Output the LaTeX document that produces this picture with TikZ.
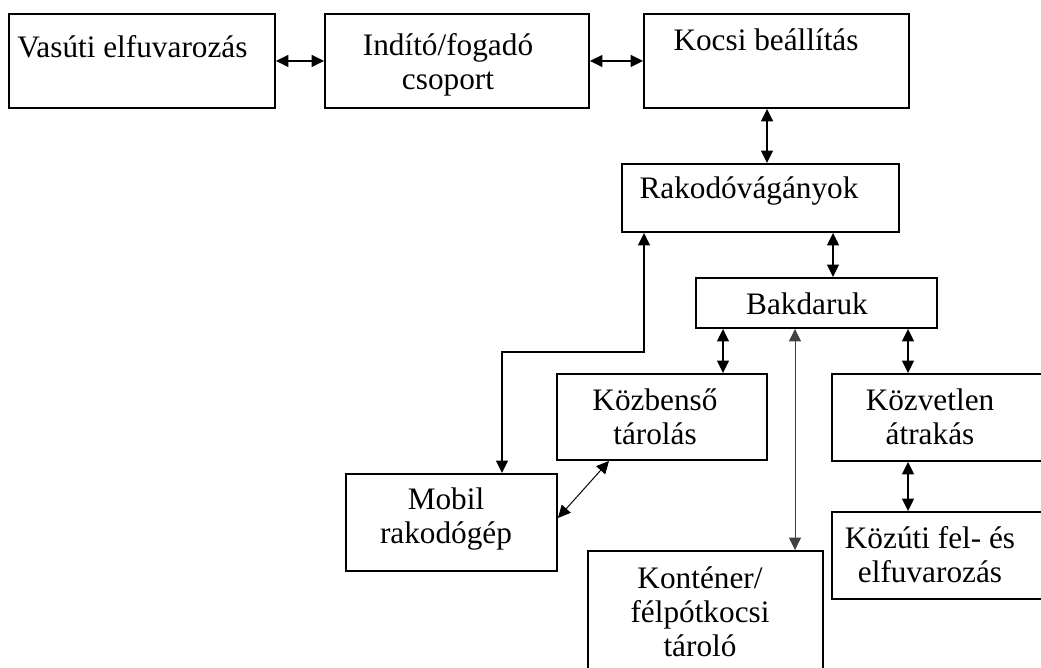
\documentclass[tikz,border=0pt]{standalone}
\usepackage{fontspec}
\setmainfont{Liberation Serif}
\usepackage{tikz}
\usetikzlibrary{arrows.meta, positioning}

\begin{document}
\begin{tikzpicture}[
    x=0.02cm, y=-0.02cm,
    box/.style={rectangle, draw=black, line width=1.1pt, inner sep=0pt},
    txt/.style={align=center, inner sep=0pt,
                font=\fontsize{17.8}{19.5}\selectfont},
    arr/.style={{Triangle[length=0.25cm,width=0.24cm]}-{Triangle[length=0.25cm,width=0.24cm]},
                line width=0.9pt},
    thinarr/.style={arr, line width=0.55pt},
]
\useasboundingbox (0,0) rectangle (1041,668);
\clip (0,0) rectangle (1041,668);

% boxes
\node[box, minimum width=5.32cm, minimum height=1.88cm] (vasuti) at (142,61) {};
\node[box, minimum width=5.28cm, minimum height=1.88cm] (indito) at (457,61) {};
\node[box, minimum width=5.30cm, minimum height=1.88cm] (kocsi) at (776.5,61) {};
\node[box, minimum width=5.54cm, minimum height=1.36cm] (rak) at (760.5,198) {};
\node[box, minimum width=4.82cm, minimum height=1.00cm] (bak) at (816.5,303) {};
\node[box, minimum width=4.20cm, minimum height=1.72cm] (kozb) at (662,417) {};
\node[box, minimum width=4.22cm, minimum height=1.94cm] (mobil) at (451.5,522.5) {};
\node[box, minimum width=4.70cm, minimum height=2.98cm] (kont) at (705.5,625.5) {};
\node[box, minimum width=4.96cm, minimum height=1.74cm] (kozv) at (956,417.5) {};
\node[box, minimum width=4.96cm, minimum height=1.74cm] (kozuti) at (956,555.5) {};

% texts
\node[txt, anchor=west] (vasutiT) at (17,47) {Vasúti elfuvarozás};
\node[txt] (inditoT) at (448,65) {Indító/fogadó\\csoport};
\node[txt] (kocsiT) at (766,40) {Kocsi beállítás};
\node[txt] (rakT) at (749,191) {Rakodóvágányok};
\node[txt] (bakT) at (807,304) {Bakdaruk};
\node[txt] (kozbT) at (655,417) {Közbenső\\tárolás};
\node[txt] (mobilT) at (446,519) {Mobil\\rakodógép};
\node[txt] (kozvT) at (930,417) {Közvetlen\\átrakás};
\node[txt] (kozutiT) at (930,555) {Közúti fel- és\\elfuvarozás};
\node[txt] (kontT) at (700,612) {Konténer/\\félpótkocsi\\tároló};

% connectors
\coordinate (c1) at (767,0);
\coordinate (c2) at (644,0);
\coordinate (bend) at (502,352);
\coordinate (c3) at (833,0);
\coordinate (c4) at (723,0);
\coordinate (c5) at (795,0);
\coordinate (c6) at (908,0);
\coordinate (d1) at (0,518);
\coordinate (d2) at (609,0);

\draw[arr] (vasuti) -- (indito);
\draw[arr] (indito) -- (kocsi);
\draw[arr] (kocsi.south -| c1) -- (rak.north -| c1);
\draw[arr] (rak.south -| c2) |- (bend) -- (mobil.north -| bend);
\draw[arr] (rak.south -| c3) -- (bak.north -| c3);
\draw[arr] (bak.south -| c4) -- (kozb.north -| c4);
\draw[thinarr, black!75] (bak.south -| c5) -- (kont.north -| c5);
\draw[arr] (bak.south -| c6) -- (kozv.north -| c6);
\draw[arr] (kozv.south -| c6) -- (kozuti.north -| c6);
\draw[thinarr] (mobil.east |- d1) -- (kozb.south -| d2);

\end{tikzpicture}
\end{document}
